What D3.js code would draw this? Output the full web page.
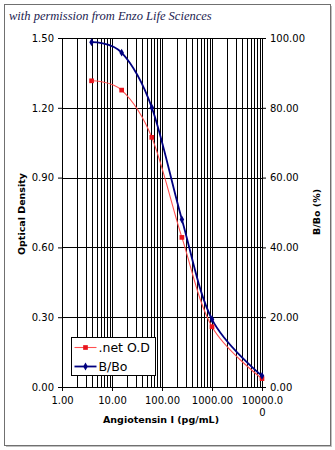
<html>
	<head>
		<meta content="text/html;charset=utf-8" http-equiv="Content-Type">
		<style>
			body { margin: 0; background: #ffffff; }
		</style>
	</head>
	<body>
		<script src="https://cdn.jsdelivr.net/npm/d3@7/dist/d3.min.js" charset="utf-8"></script>
		<script>
			// standard concentrations, pg/mL
			var conc = [3.9, 15.6, 62.5, 250, 1000, 10000];
			// net optical density (left axis)
			var netOD = [1.316, 1.276, 1.073, 0.643, 0.259, 0.036];
			// percent bound B/Bo (right axis)
			var bBo = [98.8, 95.8, 80.1, 48.0, 19.4, 3.2];
			var xTicks = [1, 10, 100, 1000, 10000];
			var xTickLabels = ["1.00", "10.00", "100.00", "1000.00", "10000.0|0"];
			var odTicks = [0, 0.3, 0.6, 0.9, 1.2, 1.5];
			var pctTicks = [0, 20, 40, 60, 80, 100];
			var seriesNames = [".net O.D", "B/Bo"];

			var W = 335, H = 450;
			// plot box (window.top is taken, hence the prefix)
			var pLeft = 62, pRight = 262, pTop = 38, pBottom = 387;
			var tickFont = "'DejaVu Sans', Verdana, sans-serif";

			var svg = d3.select('body').append('svg')
				.attr('width', W)
				.attr('height', H);

			// frame round the whole picture
			svg.append('rect')
				.attr('x', 4.5).attr('y', 4.5)
				.attr('width', 326).attr('height', 441)
				.attr('fill', '#ffffff')
				.attr('stroke', '#707070')
				.attr('stroke-width', 1);
			svg.append('line')
				.attr('x1', 331.5).attr('x2', 331.5).attr('y1', 6).attr('y2', 447)
				.attr('stroke', '#c0c0c0');
			svg.append('line')
				.attr('x1', 6).attr('x2', 331.5).attr('y1', 446.5).attr('y2', 446.5)
				.attr('stroke', '#c0c0c0');

			svg.append('text')
				.attr('x', 9)
				.attr('y', 20)
				.style('font-family', "'Liberation Serif', 'DejaVu Serif', serif")
				.style('font-style', 'italic')
				.style('font-size', '12.5px')
				.attr('fill', '#1c1c50')
				.text('with permission from Enzo Life Sciences');

			var x = d3.scaleLog().domain([1, 10000]).range([pLeft, pRight]);
			var yL = d3.scaleLinear().domain([0, 1.5]).range([pBottom, pTop]);
			var yR = d3.scaleLinear().domain([0, 100]).range([pBottom, pTop]);

			function px(v) { return Math.round(v) + 0.5; }

			// vertical grid at every log step
			var minor = [];
			for (var d = 1; d < 10000; d *= 10)
				for (var m = 1; m < 10; m++)
					minor.push(d * m);
			minor.push(10000);

			var grid = svg.append('g');
			grid.selectAll('line.v')
				.data(minor)
				.enter().append('line')
				.attr('class', 'v')
				.attr('x1', function(d) { return px(x(d)); })
				.attr('x2', function(d) { return px(x(d)); })
				.attr('y1', pTop)
				.attr('y2', pBottom)
				.attr('stroke', '#000000')
				.attr('stroke-width', 1);
			grid.selectAll('line.h')
				.data(odTicks)
				.enter().append('line')
				.attr('class', 'h')
				.attr('x1', pLeft)
				.attr('x2', pRight)
				.attr('y1', function(d) { return px(yL(d)); })
				.attr('y2', function(d) { return px(yL(d)); })
				.attr('stroke', '#000000')
				.attr('stroke-width', 1);

			// left axis
			var gl = svg.append('g').attr('transform', 'translate(' + (px(pLeft) - 0.5) + ',0)');
			gl.call(d3.axisLeft(yL).tickValues(odTicks).tickFormat(d3.format('.2f')).tickSize(4).tickPadding(4));
			// right axis
			var gr = svg.append('g').attr('transform', 'translate(' + (px(pRight) - 0.5) + ',0)');
			gr.call(d3.axisRight(yR).tickValues(pctTicks).tickFormat(d3.format('.2f')).tickSize(4).tickPadding(4));
			// bottom axis
			var gb = svg.append('g').attr('transform', 'translate(0,' + (px(pBottom) - 0.5) + ')');
			gb.call(d3.axisBottom(x).tickValues(xTicks).tickFormat(function(d, i) { return ''; }).tickSize(4).tickPadding(4));

			[gl, gr, gb].forEach(function(g) {
				g.select('.domain').attr('stroke', '#000000');
				g.selectAll('.tick line').attr('stroke', '#000000');
				g.selectAll('text')
					.style('font-family', tickFont)
					.style('font-size', '10px')
					.attr('fill', '#000000');
			});

			// bottom labels, the last one wraps
			gb.selectAll('.tick').each(function(d, i) {
				var parts = xTickLabels[i].split('|');
				var t = d3.select(this).select('text').attr('y', 10);
				t.text(null);
				parts.forEach(function(p, k) {
					t.append('tspan')
						.attr('x', 0)
						.attr('dy', k == 0 ? '0.71em' : '1.2em')
						.text(p);
				});
			});

			// axis titles
			svg.append('text')
				.attr('transform', 'translate(25,214) rotate(-90)')
				.attr('text-anchor', 'middle')
				.style('font-family', tickFont)
				.style('font-weight', 'bold')
				.style('font-size', '9.5px')
				.text('Optical Density');
			svg.append('text')
				.attr('transform', 'translate(320,212) rotate(-90)')
				.attr('text-anchor', 'middle')
				.style('font-family', tickFont)
				.style('font-weight', 'bold')
				.style('font-size', '9.5px')
				.text('B/Bo (%)');
			svg.append('text')
				.attr('x', 161)
				.attr('y', 423)
				.attr('text-anchor', 'middle')
				.style('font-family', tickFont)
				.style('font-weight', 'bold')
				.style('font-size', '9.5px')
				.text('Angiotensin I (pg/mL)');

			// curves
			var odLine = d3.line()
				.x(function(d, i) { return x(conc[i]); })
				.y(function(d) { return yL(d); })
				.curve(d3.curveCardinal.tension(0));
			var pctLine = d3.line()
				.x(function(d, i) { return x(conc[i]); })
				.y(function(d) { return yR(d); })
				.curve(d3.curveCardinal.tension(0));

			svg.append('path')
				.attr('d', odLine(netOD))
				.attr('fill', 'none')
				.attr('stroke', '#ff5050')
				.attr('stroke-width', 1.1);
			svg.append('path')
				.attr('d', pctLine(bBo))
				.attr('fill', 'none')
				.attr('stroke', '#000080')
				.attr('stroke-width', 1.8);

			var sq = d3.symbol().type(d3.symbolSquare).size(22);
			var dia = d3.symbol().type(d3.symbolDiamond).size(18);
			svg.selectAll('path.od')
				.data(netOD)
				.enter().append('path')
				.attr('class', 'od')
				.attr('d', sq)
				.attr('transform', function(d, i) { return 'translate(' + x(conc[i]) + ',' + yL(d) + ')'; })
				.attr('fill', '#e8141c');
			svg.selectAll('path.pct')
				.data(bBo)
				.enter().append('path')
				.attr('class', 'pct')
				.attr('d', dia)
				.attr('transform', function(d, i) { return 'translate(' + x(conc[i]) + ',' + yR(d) + ')'; })
				.attr('fill', '#000080');

			// legend
			var lg = svg.append('g').attr('transform', 'translate(71.5,337.5)');
			lg.append('rect')
				.attr('width', 84)
				.attr('height', 38)
				.attr('fill', '#ffffff')
				.attr('stroke', '#000000');
			var rows = lg.selectAll('g')
				.data(seriesNames)
				.enter().append('g')
				.attr('transform', function(d, i) { return 'translate(0,' + (10 + i * 19) + ')'; });
			rows.append('line')
				.attr('x1', 3).attr('x2', 25)
				.attr('stroke', function(d, i) { return i == 0 ? '#ff5050' : '#000080'; })
				.attr('stroke-width', function(d, i) { return i == 0 ? 1.1 : 1.8; });
			rows.append('path')
				.attr('d', function(d, i) { return i == 0 ? sq() : dia(); })
				.attr('transform', 'translate(14,0)')
				.attr('fill', function(d, i) { return i == 0 ? '#e8141c' : '#000080'; });
			rows.append('text')
				.attr('x', 27)
				.attr('y', 4.5)
				.style('font-family', tickFont)
				.style('font-size', '12.5px')
				.text(function(d) { return d; });
		</script>
	</body>
</html>
